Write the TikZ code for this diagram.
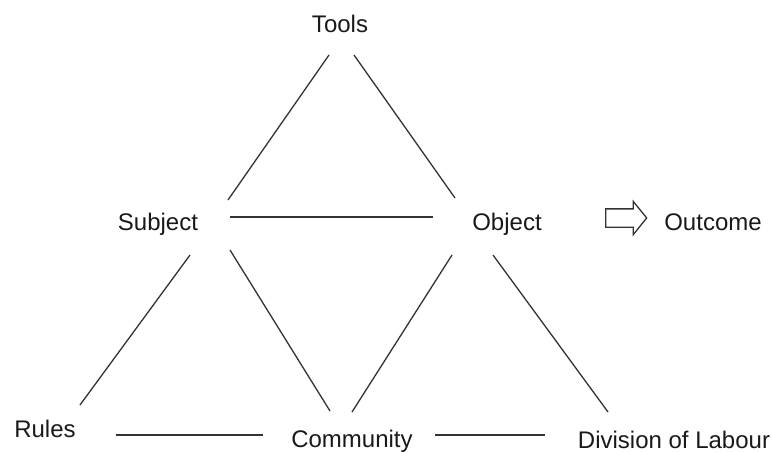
\documentclass[tikz,border=0pt]{standalone}
\usepackage{fontspec}
\setmainfont{Liberation Sans}
\usetikzlibrary{shapes.arrows}

\newlength{\du}
\setlength{\du}{1pt}

\definecolor{dialinecolor}{rgb}{0.200000, 0.200000, 0.200000}
\definecolor{diatextcolor}{rgb}{0.100000, 0.100000, 0.100000}

\tikzset{
  label/.style={anchor=base, inner sep=0pt, text=diatextcolor,
    font=\fontsize{24}{28}\selectfont},
  link/.style={draw=dialinecolor, line width=1.3\du},
}

\begin{document}
\begin{tikzpicture}[yscale=-1]
\useasboundingbox (0\du,0\du) rectangle (772\du,452\du);
% labels
\node[label] (tools) at (340\du,33\du){Tools};
\node[label] (subject) at (158\du,230\du){Subject};
\node[label] (object) at (507\du,230\du){Object};
\node[label] (outcome) at (713\du,230\du){Outcome};
\node[label] (rules) at (45\du,437\du){Rules};
\node[label] (community) at (352\du,447\du){Community};
\node[label] (division) at (674\du,448\du){Division of Labour};
% line ends
\coordinate (ts1) at (329\du,55\du);
\coordinate (ts2) at (228\du,200\du);
\coordinate (to1) at (354\du,55\du);
\coordinate (to2) at (455\du,198\du);
\coordinate (so1) at (230\du,217\du);
\coordinate (so2) at (433\du,217\du);
\coordinate (sr1) at (190\du,255\du);
\coordinate (sr2) at (80\du,405\du);
\coordinate (sc1) at (230\du,250\du);
\coordinate (sc2) at (330\du,411\du);
\coordinate (oc1) at (452\du,255\du);
\coordinate (oc2) at (352\du,412\du);
\coordinate (od1) at (493\du,255\du);
\coordinate (od2) at (608\du,412\du);
\coordinate (rc1) at (116\du,435\du);
\coordinate (rc2) at (263\du,435\du);
\coordinate (cd1) at (435\du,435\du);
\coordinate (cd2) at (545\du,435\du);
\draw[link] (ts1)--(ts2);
\draw[link] (to1)--(to2);
\draw[link] (so1)--(so2);
\draw[link] (sr1)--(sr2);
\draw[link] (sc1)--(sc2);
\draw[link] (oc1)--(oc2);
\draw[link] (od1)--(od2);
\draw[link] (rc1)--(rc2);
\draw[link] (cd1)--(cd2);
% hollow arrow to outcome
\node[single arrow, draw=dialinecolor, line width=1.3\du, inner xsep=0pt,
  inner ysep=8.5\du, minimum height=41\du, single arrow head extend=7.5\du,
  single arrow tip angle=102] (flow) at (622.5\du,218\du){};
\end{tikzpicture}
\end{document}
